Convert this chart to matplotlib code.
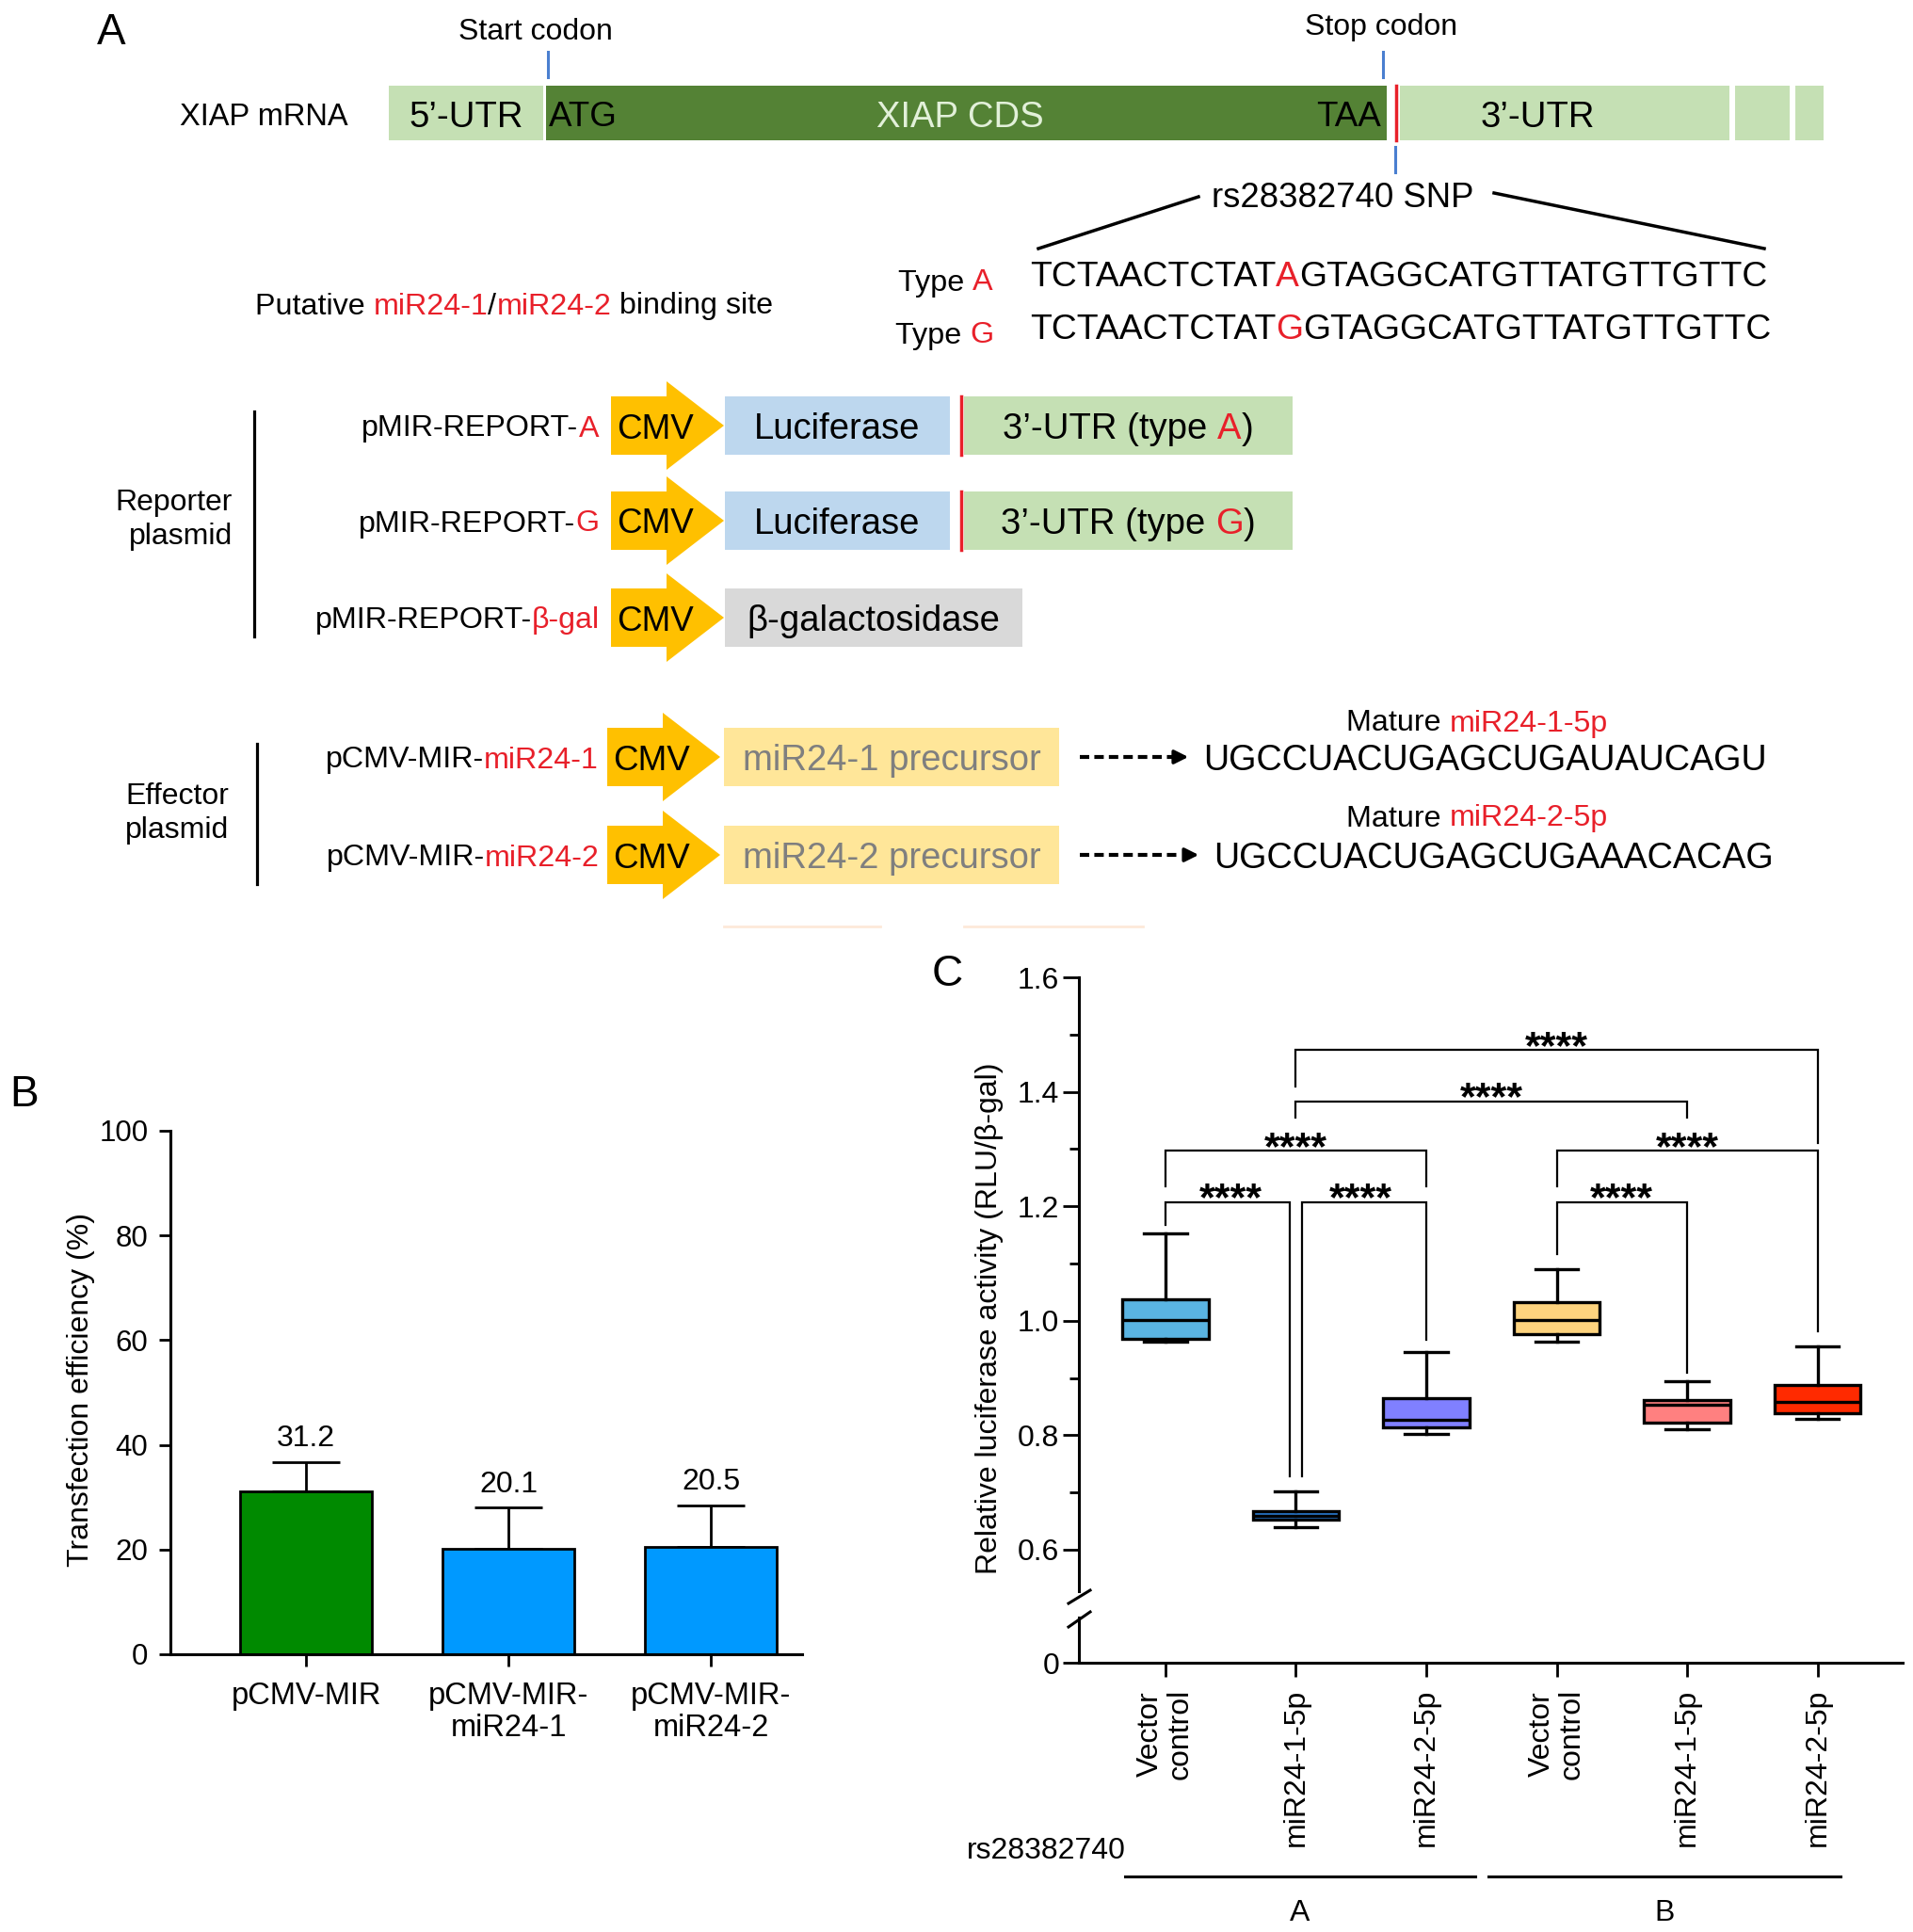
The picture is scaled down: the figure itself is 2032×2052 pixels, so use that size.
import matplotlib
matplotlib.use('Agg')
import matplotlib.pyplot as plt
from matplotlib.patches import Rectangle, Polygon
from matplotlib.transforms import blended_transform_factory

plt.rcParams['font.family'] = ['Liberation Sans', 'DejaVu Sans']

W, H = 2032, 2052
RED = '#e8202a'
BLUE_TICK = '#4a7fd0'

# ---- panel B data
b_labels = ['pCMV-MIR', 'pCMV-MIR-\nmiR24-1', 'pCMV-MIR-\nmiR24-2']
b_values = [31.2, 20.1, 20.5]
b_errors = [5.5, 7.9, 7.9]
b_colors = ['#008a00', '#0099ff', '#0099ff']

# ---- panel C data (box summaries)
c_labels = ['Vector\ncontrol', 'miR24-1-5p', 'miR24-2-5p',
            'Vector\ncontrol', 'miR24-1-5p', 'miR24-2-5p']
c_whislo = [0.963, 0.639, 0.802, 0.963, 0.811, 0.828]
c_q1 = [0.969, 0.652, 0.813, 0.976, 0.822, 0.839]
c_med = [1.001, 0.659, 0.827, 1.001, 0.853, 0.858]
c_q3 = [1.038, 0.667, 0.864, 1.033, 0.862, 0.887]
c_whishi = [1.153, 0.702, 0.945, 1.090, 0.895, 0.956]
c_colors = ['#5ab4e2', '#2a7ad0', '#8080ff', '#fdd37e', '#ff8080', '#ff2a00']
c_groups = ['A', 'B']
# significance brackets: left box, right box, bar height, left leg end, right leg end
brackets = [
    (0, 1, 1.207, 1.167, 0.729),
    (1, 2, 1.207, 0.729, 0.967),
    (0, 2, 1.297, 1.235, 1.235),
    (1, 4, 1.383, 1.355, 1.355),
    (1, 5, 1.473, 1.410, 1.310),
    (3, 5, 1.297, 1.235, 0.982),
    (3, 4, 1.207, 1.117, 0.909),
]

# ---- panel A text content
seq_a = 'TCTAACTCTAT', 'A', 'GTAGGCATGTTATGTTGTTC'
seq_g = 'TCTAACTCTAT', 'G', 'GTAGGCATGTTATGTTGTTC'
mature_1 = 'UGCCUACUGAGCUGAUAUCAGU'
mature_2 = 'UGCCUACUGAGCUGAAACACAG'

fig = plt.figure(figsize=(W / 100, H / 100), dpi=100)
ov = fig.add_axes([0, 0, 1, 1])
ov.set_xlim(0, W)
ov.set_ylim(H, 0)
ov.axis('off')
renderer = fig.canvas.get_renderer()


def text_w(s, size, **kw):
    t = ov.text(0, 0, s + '|', fontsize=size, **kw)
    w1 = t.get_window_extent(renderer).width
    t.set_text('|')
    w0 = t.get_window_extent(renderer).width
    t.remove()
    return w1 - w0


def rich(x, y, parts, size, ha='left'):
    widths = [text_w(s, size) for s, c in parts]
    total = sum(widths)
    if ha == 'right':
        x -= total
    elif ha == 'center':
        x -= total / 2
    for (s, c), w in zip(parts, widths):
        ov.text(x, y, s, fontsize=size, color=c, ha='left', va='center_baseline')
        x += w


def box(x0, x1, yc, color, half=31):
    ov.add_patch(Rectangle((x0, yc - half), x1 - x0, 2 * half, color=color, lw=0))


def cmv(x0, tip, yc):
    hx = tip - 61
    pts = [(x0, yc - 31), (hx, yc - 31), (hx, yc - 47), (tip, yc),
           (hx, yc + 47), (hx, yc + 31), (x0, yc + 31)]
    ov.add_patch(Polygon(pts, closed=True, color='#ffc000', lw=0))
    ov.text(x0 + 47, yc, 'CMV', fontsize=26.5, ha='center', va='center_baseline')


# ---------------- panel A
ov.text(118, 30, 'A', fontsize=33, ha='center', va='center_baseline')
ov.text(569, 30, 'Start codon', fontsize=23, ha='center', va='center_baseline')
ov.text(1467, 26, 'Stop codon', fontsize=23, ha='center', va='center_baseline')
ov.plot([582, 582], [55, 82], color=BLUE_TICK, lw=2.2)
ov.plot([1469, 1469], [55, 82], color=BLUE_TICK, lw=2.2)
ov.plot([1482, 1482], [156, 183], color=BLUE_TICK, lw=2.2)

ov.text(370, 121, 'XIAP mRNA', fontsize=23.5, ha='right', va='center_baseline')
bar_y = 120
for x0, x1, col in [(413, 577, '#c5e0b4'), (580, 1473, '#548235'),
                    (1487, 1837, '#c5e0b4'), (1843, 1901, '#c5e0b4'),
                    (1907, 1937, '#c5e0b4')]:
    box(x0, x1, bar_y, col, half=29)
ov.plot([1483, 1483], [91, 149], color=RED, lw=2.5)
ov.text(495, 121, "5’-UTR", fontsize=27.5, ha='center', va='center_baseline')
ov.text(583, 121, 'ATG', fontsize=26.5, ha='left', va='center_baseline')
ov.text(1020, 121, 'XIAP CDS', fontsize=27.5, ha='center', va='center_baseline', color='#e2f0d9')
ov.text(1467, 121, 'TAA', fontsize=26.5, ha='right', va='center_baseline')
ov.text(1633, 121, "3’-UTR", fontsize=27.5, ha='center', va='center_baseline')

ov.text(1426, 206, 'rs28382740 SNP', fontsize=26.3, ha='center', va='center_baseline')
ov.plot([1273, 1103], [209, 264], color='black', lw=2.5)
ov.plot([1587, 1874], [205, 264], color='black', lw=2.5)

rich(1055, 297, [('Type ', 'black'), ('A', RED)], 23.3, ha='right')
rich(1055, 353, [('Type ', 'black'), ('G', RED)], 23.3, ha='right')
rich(1094, 291, [(seq_a[0], 'black'), (seq_a[1], RED), (seq_a[2], 'black')], 26.8)
rich(1094, 347, [(seq_g[0], 'black'), (seq_g[1], RED), (seq_g[2], 'black')], 26.8)
rich(271, 322, [('Putative ', 'black'), ('miR24-1', RED), ('/', 'black'),
                ('miR24-2', RED), (' binding site', 'black')], 23.2)

# reporter plasmids
rows = [452, 553, 656, 804, 908]
rich(636, rows[0], [('pMIR-REPORT-', 'black'), ('A', RED)], 23.2, ha='right')
rich(636, rows[1], [('pMIR-REPORT-', 'black'), ('G', RED)], 23.2, ha='right')
rich(637, rows[2], [('pMIR-REPORT-', 'black'), ('β-gal', RED)], 23.2, ha='right')
rich(636, rows[3], [('pCMV-MIR-', 'black'), ('miR24-1', RED)], 23.2, ha='right')
rich(637, rows[4], [('pCMV-MIR-', 'black'), ('miR24-2', RED)], 23.2, ha='right')
for yc in rows[:3]:
    cmv(649, 769, yc)
for yc in rows[3:]:
    cmv(645, 765, yc)

for yc, t in [(rows[0], 'A'), (rows[1], 'G')]:
    box(770, 1009, yc, '#bdd7ee')
    ov.text(889, yc, 'Luciferase', fontsize=27.5, ha='center', va='center_baseline')
    ov.plot([1021, 1021], [yc - 31, yc + 31], color=RED, lw=2.5)
    box(1024, 1373, yc, '#c5e0b4')
    rich(1198, yc, [("3’-UTR (type ", 'black'), (t, RED), (')', 'black')], 27.5, ha='center')
box(770, 1086, rows[2], '#d9d9d9')
ov.text(928, rows[2], 'β-galactosidase', fontsize=27.5, ha='center', va='center_baseline')

ov.plot([270, 270], [437, 676], color='black', lw=2.3)
ov.text(247, 552, 'Reporter\nplasmid', fontsize=23, ha='right', va='center',
        multialignment='right', linespacing=1.25)
ov.plot([273, 273], [790, 939], color='black', lw=2.3)
ov.text(243, 864, 'Effector\nplasmid', fontsize=23, ha='right', va='center',
        multialignment='right', linespacing=1.25)

for yc, name, seq, sx, my in [(rows[3], 'miR24-1', mature_1, 1278, 765),
                               (rows[4], 'miR24-2', mature_2, 1289, 866)]:
    box(769, 1125, yc, '#ffe699')
    ov.text(947, yc, name + ' precursor', fontsize=27.5, ha='center',
            va='center_baseline', color='#7f7f7f')
    ov.plot([1147, 1250], [yc, yc], color='black', lw=3, ls=(0, (2.4, 1.3)))
    ov.annotate('', xy=(sx - 13, yc), xytext=(sx - 30, yc),
                arrowprops=dict(arrowstyle='-|>', color='black', lw=2.5, mutation_scale=22))
    ov.text(sx, yc, seq, fontsize=27.2, ha='left', va='center_baseline')
    rich(1569, my, [('Mature ', 'black'), (name + '-5p', RED)], 23.2, ha='center')

# faint artefact strokes under panel A
ov.plot([769, 935], [984, 984], color='#fde9d9', lw=2)
ov.plot([1024, 1214], [984, 984], color='#fde9d9', lw=2)

# ---------------- panel B
def fig_rect(x0, x1, ytop, ybot):
    return [x0 / W, 1 - ybot / H, (x1 - x0) / W, (ybot - ytop) / H]


axb = fig.add_axes(fig_rect(181, 852, 1201, 1757))
axb.set_facecolor('none')
xb = range(len(b_values))
axb.bar(xb, b_values, width=0.65, color=b_colors, edgecolor='black', linewidth=2, zorder=2)
axb.errorbar(xb, b_values, yerr=[[0] * len(b_errors), b_errors], fmt='none',
             ecolor='black', elinewidth=2, capsize=26, capthick=2, zorder=1)
for x, v, e in zip(xb, b_values, b_errors):
    axb.annotate(f'{v:.1f}', (x, v + e), xytext=(0, 7), textcoords='offset points',
                 ha='center', va='bottom', fontsize=23)
axb.set_xlim(-0.67, 2.45)
axb.set_ylim(0, 100)
axb.set_yticks(range(0, 101, 20))
axb.set_xticks(list(xb))
axb.set_xticklabels(b_labels, fontsize=23.5, linespacing=1.12)
axb.tick_params(axis='y', labelsize=22.5, length=9, width=2, pad=8)
axb.tick_params(axis='x', length=9, width=2, pad=12)
for s in ['top', 'right']:
    axb.spines[s].set_visible(False)
for s in ['left', 'bottom']:
    axb.spines[s].set_linewidth(2.2)
ov.text(86, 1476, 'Transfection efficiency (%)', fontsize=23, rotation=90,
        ha='center', va='center')
ov.text(26, 1158, 'B', fontsize=33, ha='center', va='center_baseline')

# ---------------- panel C
xc = list(range(len(c_med)))
xlim_c = (-0.664, 5.653)
ax_hi = fig.add_axes(fig_rect(1146, 2021, 1038, 1690))
ax_lo = fig.add_axes(fig_rect(1146, 2021, 1718, 1766))
for a in (ax_hi, ax_lo):
    a.set_facecolor('none')
    a.set_xlim(*xlim_c)
    for s in ['top', 'right']:
        a.spines[s].set_visible(False)
    a.spines['left'].set_linewidth(2.2)
    a.spines['bottom'].set_linewidth(2.2)

stats = [dict(med=m, q1=a, q3=b, whislo=lo, whishi=hi, fliers=[])
         for m, a, b, lo, hi in zip(c_med, c_q1, c_q3, c_whislo, c_whishi)]
bp = ax_hi.bxp(stats, positions=xc, widths=0.66, patch_artist=True, showfliers=False,
               boxprops=dict(linewidth=2.4, edgecolor='black'),
               medianprops=dict(color='black', linewidth=2.4),
               whiskerprops=dict(color='black', linewidth=2.4),
               capprops=dict(color='black', linewidth=2.4))
for patch, col in zip(bp['boxes'], c_colors):
    patch.set_facecolor(col)

ax_hi.set_ylim(0.5276, 1.6)
ax_hi.set_yticks([0.6, 0.8, 1.0, 1.2, 1.4, 1.6])
ax_hi.set_yticks([0.7, 0.9, 1.1, 1.3, 1.5], minor=True)
ax_hi.yaxis.set_major_formatter(matplotlib.ticker.FormatStrFormatter('%.1f'))
ax_hi.tick_params(axis='y', which='major', labelsize=23, length=12, width=2, pad=3)
ax_hi.tick_params(axis='y', which='minor', length=7, width=2)
ax_hi.spines['bottom'].set_visible(False)
ax_hi.set_xticks([])

ax_lo.set_ylim(0, 1)
ax_lo.set_yticks([0])
ax_lo.tick_params(axis='y', labelsize=23, length=12, width=2, pad=3)
ax_lo.set_xticks(xc)
ax_lo.set_xticklabels(c_labels, rotation=90, fontsize=23, va='top', ha='center',
                      linespacing=1.1)
ax_lo.tick_params(axis='x', length=11, width=2, pad=9)

for i, j, yb, yl, yr in brackets:
    dl = 0.045 if (i == 1 and j == 2) else 0
    dr = -0.045 if (i == 0 and j == 1) else 0
    ax_hi.plot([i + dl, i + dl, j + dr, j + dr], [yl, yb, yb, yr], color='black',
               lw=1.6, solid_joinstyle='miter')
    ax_hi.text((i + j) / 2, yb - 0.014, '****', ha='center', va='baseline',
               fontsize=31, fontweight='bold')

# axis break marks
ov.plot([1135, 1158], [1703, 1689], color='black', lw=2.2)
ov.plot([1135, 1158], [1728, 1712], color='black', lw=2.2)

ov.text(1051, 1400, 'Relative luciferase activity (RLU/β-gal)', fontsize=23,
        rotation=90, ha='center', va='center')
ov.text(1006, 1030, 'C', fontsize=33, ha='center', va='center_baseline')

tr = blended_transform_factory(ax_lo.transData, ov.transData)
ov.text(1027, 1963, 'rs28382740', fontsize=23, ha='left', va='center_baseline')
for name, (g0, g1) in zip(c_groups, [(-0.31, 2.375), (2.48, 5.18)]):
    ov.plot([g0, g1], [1993, 1993], color='black', lw=2.2, transform=tr)
    ov.text((g0 + g1) / 2, 2028, name, fontsize=23, ha='center', va='center_baseline',
            transform=tr)

fig.savefig('out.png', dpi=100)
